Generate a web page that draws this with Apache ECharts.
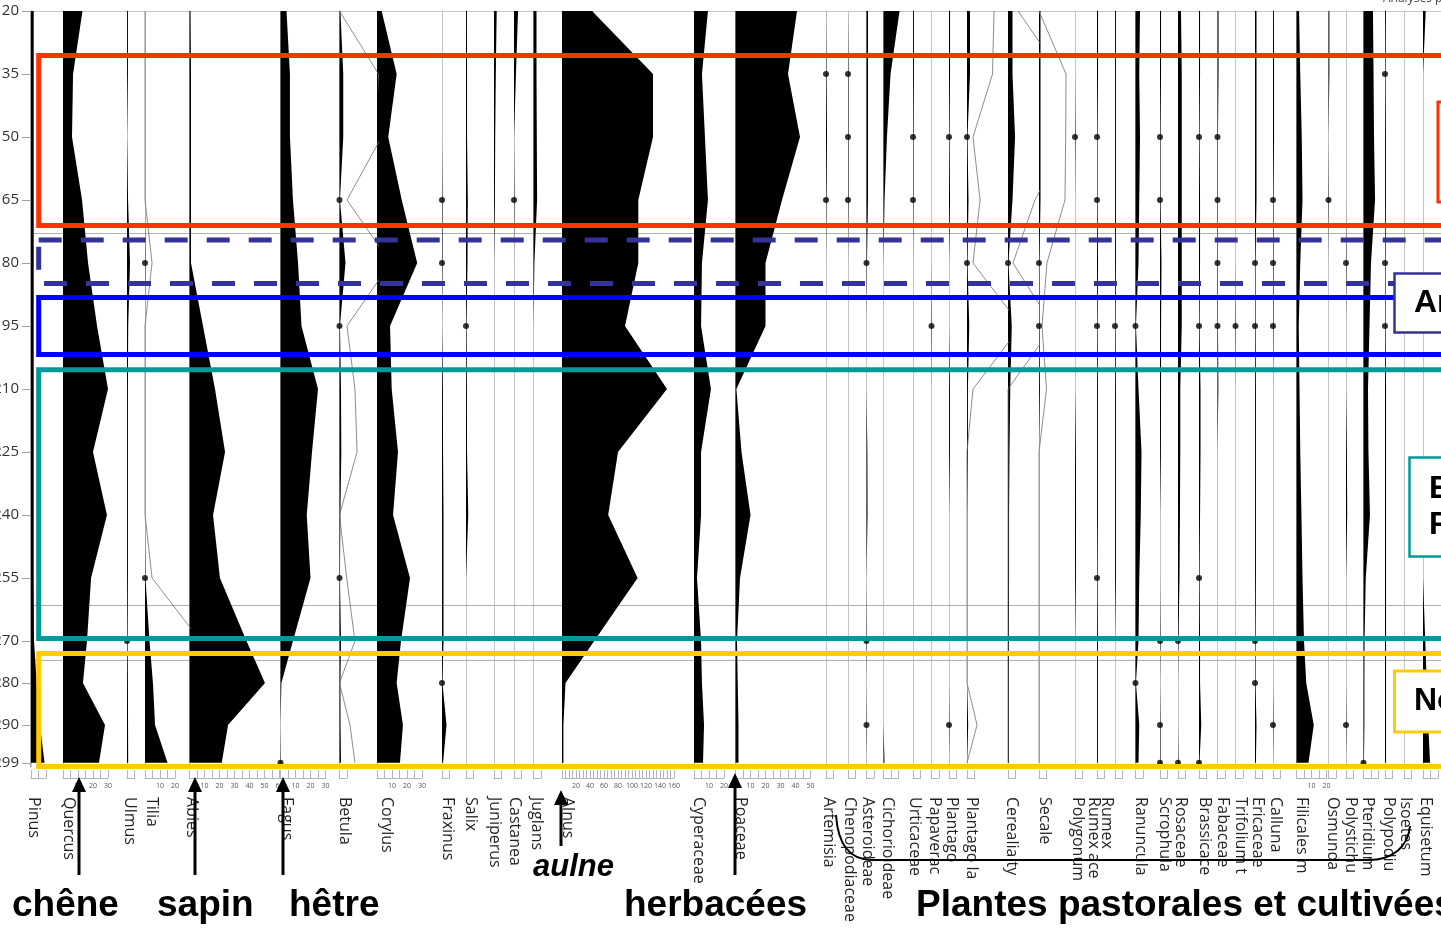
<!DOCTYPE html>
<html>
<head>
<meta charset="utf-8">
<script src="https://cdn.jsdelivr.net/npm/echarts@6/dist/echarts.min.js"></script>
<style>
html,body{margin:0;padding:0;background:#fff;overflow:hidden}
#c{width:1441px;height:929px}
</style>
</head>
<body>
<div id="c"></div>
<script>
// ---------------- DATA ----------------
const depths     = [120,135,150,165,180,195,210,225,240,255,270,280,290,299];
const depthTicks = [120,135,150,165,180,195,210,225,240,255,270,280,290,299];

const taxa = ['Pinus','Quercus','Ulmus','Tilia','Abies','Fagus','Betula','Corylus','Fraxinus','Salix',
  'Juniperus','Castanea','Juglans','Alnus','Cyperaceae','Poaceae','Artemisia','Chenopodiaceae','Asteroideae','Cichorioideae',
  'Urticaceae','Papaverac','Plantago','Plantago la','Cerealia ty','Secale','Polygonum','Rumex ace','Rumex','Ranuncula',
  'Scrophula','Rosaceae','Brassicace','Fabaceae','Trifolium t','Ericaceae','Calluna','Filicales m','Osmunda','Polystichu',
  'Pteridium','Polypodiu','Isoetes','Equisetum'];

// percentages at each depth (values <= 0.5 are drawn as presence dots)
const Pinus            = [1.8,1.8,1.8,1.8,1.8,1.8,1.8,1.8,1.8,1.8,2,3.8,6,9];
const Quercus          = [13,6.7,6,12.7,16.7,22.7,30,20,29.3,18.7,16,13.3,28,24];
const Ulmus            = [0.6,0.6,0,0.7,2,0.8,0.6,0.6,0.6,0.6,0.3,0.6,0.7,0.8];
const Tilia            = [0,0,0,0,0.3,0,0,0,0,0.3,3,5.3,6.7,15];
const Abies            = [0.7,1,1,1,1,9,17,23.7,15.7,20.3,38,50.3,25.7,21.5];
const Fagus            = [4,6.3,6.3,8.3,11.7,14,25,21,17.5,20,8.3,0.6,0,0.3];
const Betula           = [0.6,2.5,2.5,0.3,4,0.3,1,1.2,0.6,0.3,1,0.6,0.7,1];
const Corylus          = [3.1,13.1,7.5,16.5,26.8,8.7,9.8,14,10.7,22,16,13.1,17.3,15.3];
const Fraxinus         = [0,0,0,0.3,0.3,0,0.6,0.7,1,1,1,0.3,3,0.7];
const Salix            = [0.6,0.7,0.7,1.2,1,0.3,0.6,0.7,1.5,0,0,0,0,0];
const Juniperus        = [1.8,1.2,0.8,0.6,0,0,0,0,0,0,0,0,0,0];
const Castanea         = [2.7,1.3,0,0.3,0,0,0,0,0,0,0,0,0,0];
const Juglans          = [2,2,2.2,2.4,0.6,0,0,0,0,0,0,0,0,0];
const Alnus            = [43,130,130,109,109,90,150,80,66,108,46,5,2,2];
const Cyperaceae       = [9.3,5.3,7.3,9.3,5.3,4.7,11.3,4.7,4.7,2,4.7,5.3,6.7,6];
const Poaceae          = [41,35,43,31,20,20,0.6,4,10,3,1,1.5,2,2];
const Artemisia        = [0,0.3,0.7,0.3,0,0,0,0,0,0,0,0,0,0];
const Chenopodiaceae   = [0,0.3,0.3,0.3,0,0,0,0,0,0,0,0,0,0];
const Asteroideae      = [1,1,1,1,0.3,0,0,0.6,0.7,0,0.3,0,0.3,0];
const Cichorioideae    = [10.7,4.7,2.3,0.7,0,0,0,0,0,0,0,0,0,0.7];
const Urticaceae       = [0.6,0.6,0.3,0.3,0,0,0,0,0,0,0,0,0,0];
const Papaveraceae     = [0,0,0,0,0,0.3,0,0,0,0,0,0,0,0];
const Plantago         = [0.7,0.7,0.3,0.7,0,0,0.6,0.6,0,0,0,0,0.3,0];
const PlantagoLanc     = [2,2,0.3,1,0.3,1.5,0.6,0.6,0,0,0,0,0.8,0];
const Cerealia         = [3,3,4.7,3,0.3,2.5,1.5,1,0.7,0.7,0.6,0.6,0.6,0.6];
const Secale           = [1,1,1,1,0.3,0.3,0.6,0,0,0,0,0,0,0];
const Polygonum        = [0,0,0.3,0,0,0,0,0.6,0.7,0.6,0,0,0,0];
const RumexAcetosa     = [0.7,0.7,0.3,0.3,0.7,0.3,0.6,0.6,0.6,0.3,0.6,0.6,0.6,0.6];
const Rumex            = [0.6,0.6,0.6,0.6,0.6,0.3,0.6,0.6,0.6,0.6,0,0,0,0];
const Ranunculaceae    = [3,2.5,3,2.5,2,0.3,2,4,3.5,2.5,2,0.3,2.5,2];
const Scrophulariaceae = [0.7,0.7,0.3,0.3,1,0.7,0.7,0.6,0,0,0.3,0,0.3,0.3];
const Rosaceae         = [2,2.5,2.5,2.5,2.5,2.5,1.5,1.5,1.3,1,0.3,0,0,0.3];
const Brassicaceae     = [0.7,0.7,0.3,0.7,0.7,0.3,1,1,0.7,0.3,0.7,0.7,1.5,0.3];
const Fabaceae         = [0.7,0.7,0.3,0.3,0.3,0.3,0.6,0,0,0,0,0,0,0];
const Trifolium        = [0,0,0,0,0,0.3,0,0,0,0,0,0,0,0];
const Ericaceae        = [1,1,1,1,0.3,0.3,0.6,0.6,0.6,0.6,0.3,0.3,1,0.6];
const Calluna          = [0.6,0.7,0.7,0.3,0.3,0.3,0,0,0,0,0,0,0.3,0];
const Filicales        = [1.7,2.5,3.5,4,2.5,1.5,2,2.5,3.3,4,5,6.5,11.5,8];
const Osmunda          = [0.6,0.6,0,0.3,0,0,0,0,0,0,0,0,0,0];
const Polystichum      = [0,0,0,0,0.3,0,0,0.6,0.8,0,0,0,0.3,0];
const Pteridium        = [6.3,6.7,7,7.7,5,4,3,3.3,4.3,1.5,0.7,0.6,0.6,0.3];
const Polypodium       = [0.6,0.3,0.6,0.6,0.3,0.3,0.7,0.7,0.7,0.7,0.7,0.7,0.7,0.7];
const Isoetes          = [0,0,0,0,0,0,0,0,0,0,0,0,0,0];
const Equisetum        = [1.8,0,0,0,0,0,0,0,0,0,1.5,2.5,3.5,4.7];

const values = [Pinus,Quercus,Ulmus,Tilia,Abies,Fagus,Betula,Corylus,Fraxinus,Salix,
  Juniperus,Castanea,Juglans,Alnus,Cyperaceae,Poaceae,Artemisia,Chenopodiaceae,Asteroideae,Cichorioideae,
  Urticaceae,Papaveraceae,Plantago,PlantagoLanc,Cerealia,Secale,Polygonum,RumexAcetosa,Rumex,Ranunculaceae,
  Scrophulariaceae,Rosaceae,Brassicaceae,Fabaceae,Trifolium,Ericaceae,Calluna,Filicales,Osmunda,Polystichum,
  Pteridium,Polypodium,Isoetes,Equisetum];

// exaggeration curves (x10), in the column's axis units
const exagTilia    = [0,0,0,0,4.7,0,0,0,0,4.7,37,53,67,150];
const exagBetula   = [0,26,28,5,34,5,10.3,11.7,0,4.8,10.3,0,7,10.3];
const exagPlantago = [18,17,4,8.7,4,36,4,0,0,0,0,0,6.7,0];
const exagCerealia = [6.7,35.6,40,18,3.3,30,0,0,0,0,0,0,0,0];
const exagSecale   = [0,18,17.8,17.3,5.3,2,5,0,0,0,0,0,0,0];
const exagTaxa     = ['Tilia','Betula','Plantago la','Cerealia ty','Secale'];
const exagCurves   = [exagTilia,exagBetula,exagPlantago,exagCerealia,exagSecale];

// scale bar maxima and label steps (axis units)
const scaleMax  = [10,30,5,20,60,30,5,30,5,5, 5,5,5,160,20,50,5,5,5,10, 5,5,5,5,5,5,5,5,5,5, 5,5,5,5,5,5,5,20,5,5, 10,5,5,10];
const labelStep = [10,10,10,10,10,10,10,10,10,10, 10,10,10,20,10,10,10,10,10,10, 10,10,10,10,10,10,10,10,10,10, 10,10,10,10,10,10,10,10,10,10, 10,10,10,10];

// zone boundaries (depth) and period boxes
const zoneLines    = [172.9, 261.4, 274.5];
const periodTop    = [130.6, 174.5, 188.2, 205.4, 273.0];
const periodBottom = [171.1, 184.9, 201.8, 269.4, 299.9];
const periodColor  = ['#ff3300', '#333399', '#0000ff', '#009999', '#ffcc00'];
const periodDashed = [false, true, false, false, false];

// ---------------- LAYOUT ----------------
const colX = [31,63,127,145,189.5,280.5,339.5,377,442,466, 494,514,533.5,562,694,735.5,826,848,866.5,883.5,
  913,931.5,949,967,1008,1039,1075,1097,1115,1135.5, 1160,1178,1199,1217.5,1235.5,1255,1273,1296.5,1328.5,1346,
  1363.5,1385,1404,1423];
const labelX = [34,69,129.5,151.7,191.7,287,345,387,448,471, 495,515,537,568,699,741,829,850,868,888,
  915,934.5,951.7,971.7,1011.7,1044.5,1078,1094,1107,1141, 1164.5,1181,1204.5,1222.5,1241,1258,1276,1301.7,1332.5,1351,
  1368,1388.5,1406,1426];
const pxPerUnit = taxa.map(t => t === 'Alnus' ? 0.7 : 1.5);
const TOP = 11, H = 756, DMIN = 120, DMAX = 300;
const DOT_MAX = 0.5;

function areaRender(params, api) {
  if (params.dataIndexInside !== 0) return null;
  const n = params.dataInsideLength;
  const pts = [api.coord([0, api.value(1, 0)])];
  for (let k = 0; k < n; k++) pts.push(api.coord([api.value(0, k), api.value(1, k)]));
  pts.push(api.coord([0, api.value(1, n - 1)]));
  return { type: 'polygon', shape: { points: pts }, style: { fill: '#000' } };
}

const grids = [], xAxes = [], yAxes = [], series = [];
const N = taxa.length;
for (let i = 0; i < N; i++) {
  const px = pxPerUnit[i];
  const w = (i < N - 1 ? colX[i + 1] : colX[i] + 25) - colX[i];
  grids.push({ left: colX[i], top: TOP, width: w, height: H, outerBoundsMode: 'none', containLabel: false });
  xAxes.push({ gridIndex: i, type: 'value', min: 0, max: w / px, show: false });
  yAxes.push({ gridIndex: i, type: 'value', min: DMIN, max: DMAX, inverse: true,
    axisLine: { show: true, onZero: false, lineStyle: { color: '#c4c4c4', width: 1 } },
    axisTick: { show: false }, axisLabel: { show: false }, splitLine: { show: false } });
  const vals = values[i];
  series.push({ type: 'custom', coordinateSystem: 'cartesian2d', xAxisIndex: i, yAxisIndex: i,
    clip: true, silent: true, z: 2, renderItem: areaRender, encode: { x: 0, y: 1 },
    data: depths.map((d, k) => [vals[k], d]) });
  const dots = depths.map((d, k) => (vals[k] > 0 && vals[k] <= DOT_MAX) ? [0, d] : null).filter(Boolean);
  if (dots.length) series.push({ type: 'scatter', xAxisIndex: i, yAxisIndex: i, symbolSize: 6,
    itemStyle: { color: '#000' }, data: dots, z: 4, silent: true, clip: false });
  const ei = exagTaxa.indexOf(taxa[i]);
  if (ei >= 0) series.push({ type: 'line', xAxisIndex: i, yAxisIndex: i, symbol: 'none', silent: true,
    lineStyle: { color: '#707070', width: 0.8 }, z: 3, clip: true,
    data: depths.map((d, k) => [exagCurves[ei][k], d]) });
}
// scale bars under each column
for (let i = 0; i < N; i++) {
  const px = pxPerUnit[i];
  grids.push({ left: colX[i], top: 767, width: scaleMax[i] * px, height: 11, outerBoundsMode: 'none', containLabel: false });
  const step = labelStep[i];
  xAxes.push({ gridIndex: N + i, type: 'value', min: 0, max: scaleMax[i], interval: 5, position: 'bottom',
    axisLine: { show: true, onZero: false, lineStyle: { color: '#b4b4b4', width: 1 } },
    axisTick: { show: true, inside: true, length: 8, lineStyle: { color: '#b4b4b4', width: 1 } },
    axisLabel: { show: scaleMax[i] >= 20, fontSize: 7, color: '#555', margin: 4, fontFamily: 'Open Sans',
      formatter: v => (v > 0 && v % step === 0) ? String(v) : '' },
    splitLine: { show: false } });
  yAxes.push({ gridIndex: N + i, type: 'value', show: false });
}
// frame grid: depth axis, zone lines, period boxes
const F = 2 * N;
grids.push({ left: 30, top: TOP, width: 1450, height: H, outerBoundsMode: 'none', containLabel: false });
xAxes.push({ gridIndex: F, type: 'value', min: 0, max: 100, position: 'top',
  axisLine: { show: true, onZero: false, lineStyle: { color: '#c8c8c8' } },
  axisTick: { show: false }, axisLabel: { show: false }, splitLine: { show: false } });
yAxes.push({ gridIndex: F, type: 'value', min: DMIN, max: DMAX, inverse: true, position: 'left',
  axisLine: { show: true, onZero: false, lineStyle: { color: '#a0a0a0' } },
  axisTick: { show: true, length: 8, customValues: depthTicks, lineStyle: { color: '#a0a0a0' } },
  axisLabel: { customValues: depthTicks, fontSize: 15, color: '#333', fontFamily: 'Open Sans', margin: 11 },
  splitLine: { show: false } });
series.push({ type: 'scatter', xAxisIndex: F, yAxisIndex: F, data: [], z: 1, silent: true,
  markLine: { z: 1, silent: true, symbol: ['none', 'none'], label: { show: false }, animation: false,
    lineStyle: { color: '#b0b0b0', width: 1, type: 'solid' },
    data: zoneLines.map(d => ({ yAxis: d })) } });
series.push({ type: 'scatter', xAxisIndex: F, yAxisIndex: F, data: [], z: 10, silent: true,
  markArea: { z: 10, silent: true, animation: false, label: { show: false },
    data: periodTop.map((t, k) => [
      { yAxis: t, xAxis: 0.6, itemStyle: { color: 'rgba(0,0,0,0)', borderColor: periodColor[k], borderWidth: 5,
        borderType: periodDashed[k] ? [23, 19] : 'solid' } },
      { yAxis: periodBottom[k], xAxis: 100 }]) } });

// ---------------- ANNOTATIONS ----------------
const graphic = [];
taxa.forEach((t, i) => graphic.push({ type: 'text', x: labelX[i], y: 797, rotation: -Math.PI / 2, z: 20, silent: true,
  style: { text: t, font: '16px "Open Sans"', fill: '#222', align: 'left', verticalAlign: 'middle' } }));
function arrow(x, yTip, yEnd) {
  graphic.push({ type: 'line', z: 30, silent: true, shape: { x1: x, y1: yTip + 12, x2: x, y2: yEnd },
    style: { stroke: '#000', lineWidth: 3 } });
  graphic.push({ type: 'polygon', z: 30, silent: true, shape: { points: [[x, yTip], [x - 7, yTip + 15], [x + 7, yTip + 15]] },
    style: { fill: '#000' } });
}
arrow(79, 777, 875); arrow(195, 777, 875); arrow(283, 777, 875); arrow(561, 790, 846); arrow(735, 773, 875);
const bigFont = 'bold 37px "Liberation Sans", Arial, sans-serif';
[['chêne', 12], ['sapin', 157], ['hêtre', 289], ['herbacées', 624], ['Plantes pastorales et cultivées', 916]].forEach(([t, x]) =>
  graphic.push({ type: 'text', x: x, y: 906, z: 30, silent: true, style: { text: t, font: bigFont, fill: '#000', verticalAlign: 'middle' } }));
graphic.push({ type: 'text', x: 533, y: 867, z: 30, silent: true,
  style: { text: 'aulne', font: 'italic bold 31px "Liberation Sans", Arial, sans-serif', fill: '#000', verticalAlign: 'middle' } });
// bracket grouping the pastoral / cultivated taxa
graphic.push({ type: 'bezierCurve', z: 30, silent: true,
  shape: { x1: 836, y1: 815, cpx1: 838, cpy1: 846, cpx2: 850, cpy2: 860, x2: 872, y2: 860 },
  style: { stroke: '#000', lineWidth: 2, fill: null } });
graphic.push({ type: 'line', z: 30, silent: true, shape: { x1: 872, y1: 860, x2: 1368, y2: 860 },
  style: { stroke: '#000', lineWidth: 2 } });
graphic.push({ type: 'bezierCurve', z: 30, silent: true,
  shape: { x1: 1368, y1: 860, cpx1: 1394, cpy1: 860, cpx2: 1408, cpy2: 846, x2: 1410, y2: 826 },
  style: { stroke: '#000', lineWidth: 2, fill: null } });
// period labels (cut by the right edge)
function box(x, y, w, h, color, lw) {
  graphic.push({ type: 'rect', z: 25, silent: true, shape: { x: x, y: y, width: w, height: h },
    style: { fill: '#fff', stroke: color, lineWidth: lw } });
}
box(1438, 102, 80, 100, '#ff3300', 3);
box(1394.5, 273.5, 80, 59, '#333399', 2.5);
box(1409.5, 457.5, 80, 99, '#009999', 2.5);
box(1394.5, 671, 80, 61, '#ffcc00', 3);
const boxFont = 'bold 32px "Liberation Sans", Arial, sans-serif';
[['An', 1414, 303], ['E', 1429, 489], ['F', 1429, 525], ['No', 1414, 701]].forEach(([t, x, y]) =>
  graphic.push({ type: 'text', x: x, y: y, z: 26, silent: true, style: { text: t, font: boxFont, fill: '#000', verticalAlign: 'middle' } }));
graphic.push({ type: 'text', x: 1383, y: -1, z: 26, silent: true,
  style: { text: 'Analyses polliniques', font: '12px "Open Sans"', fill: '#444', verticalAlign: 'middle' } });

const chart = echarts.init(document.getElementById('c'));
chart.setOption({
  animation: false,
  backgroundColor: '#fff',
  grid: grids, xAxis: xAxes, yAxis: yAxes, series: series, graphic: graphic
});
</script>
</body>
</html>
